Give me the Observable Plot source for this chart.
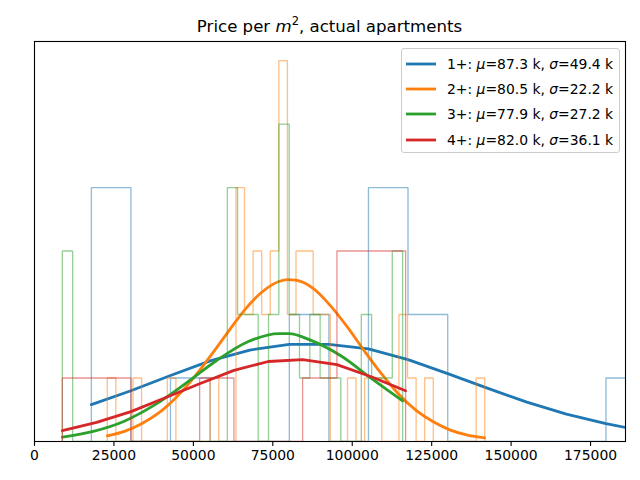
<!DOCTYPE html>
<html>
<head>
<meta charset="utf-8">
<script src="https://cdn.jsdelivr.net/npm/d3@7"></script>
<script src="https://cdn.jsdelivr.net/npm/@observablehq/plot@0.6"></script>
<style>
  html, body { margin: 0; padding: 0; background: #fff; }
  #wrap { position: relative; width: 640px; height: 480px; font-family: "DejaVu Sans", sans-serif; color: #000; }
  #title { position: absolute; left: 34px; width: 591px; top: 17px; text-align: center; font-size: 16.6px; line-height: 20px; white-space: nowrap; }
  #title sup { font-size: 11.5px; vertical-align: 0; position: relative; top: -7px; }
  #legend { position: absolute; left: 401px; top: 48px; width: 219px; height: 105px; border: 1px solid #cccccc; border-radius: 3px; background: rgba(255,255,255,0.8); box-sizing: border-box; }
  .row { position: absolute; left: 0; height: 20px; line-height: 20px; font-size: 13.9px; white-space: nowrap; }
  .row svg { position: absolute; left: 3px; top: 0; }
  .row span { position: absolute; left: 45px; top: 0; }
  #chart { position: absolute; left: 0; top: 0; }
</style>
</head>
<body>
<div id="wrap">
  <div id="chart"></div>
  <div id="title">Price per <i>m</i><sup>2</sup>, actual apartments</div>
  <div id="legend"></div>
</div>
<script>
// ---- series meta ----
const groups = ["1+", "2+", "3+", "4+"];
const colors = ["#1f77b4", "#ff7f0e", "#2ca02c", "#d62728"];
const muK = ["87.3", "80.5", "77.9", "82.0"];
const sigmaK = ["49.4", "22.2", "27.2", "36.1"];

// ---- x tick labels ----
const xTicks = [0, 25000, 50000, 75000, 100000, 125000, 150000, 175000];
const xDomain = [0, 186000];

// ---- histogram bin edges and counts ----
const edges1 = [17900, 30350, 42800, 55250, 67750, 80200, 92650, 105100, 117550, 130050, 142500, 154950, 167400, 179850, 192350];
const counts1 = [4, 0, 1, 0, 0, 2, 0, 4, 2, 0, 0, 0, 0, 1];

const edges2 = [22900, 25600, 28300, 31000, 33700, 36400, 39100, 41800, 44500, 47200, 49900, 52600, 55300, 58000, 60700, 63400, 66100, 68800, 71500, 74200, 76900, 79600, 82300, 85000, 87700, 90400, 93100, 95800, 98500, 101200, 103900, 106600, 109300, 112000, 114700, 117400, 120100, 122800, 125500, 128200, 130900, 133600, 136300, 139000, 141700];
const counts2 = [1, 0, 0, 1, 0, 0, 0, 1, 0, 0, 0, 0, 1, 0, 0, 4, 2, 3, 2, 3, 6, 2, 3, 3, 2, 2, 0, 0, 1, 0, 1, 1, 0, 0, 2, 1, 0, 1, 0, 0, 0, 0, 0, 1];

const edges3 = [8760, 12000, 15250, 18500, 21750, 25000, 28250, 31500, 34700, 37950, 41200, 44450, 47700, 50950, 54200, 57450, 60700, 63900, 67150, 70400, 73650, 76900, 80150, 83400, 86650, 89900, 93150, 96400, 99600, 102850, 106100, 109350, 112600, 115850];
const counts3 = [3, 0, 0, 0, 0, 0, 0, 0, 0, 0, 0, 0, 0, 0, 0, 0, 4, 2, 2, 0, 2, 5, 2, 1, 2, 1, 1, 0, 0, 2, 1, 1, 3];

const edges4 = [8760, 19560, 30360, 41160, 51970, 62770, 73570, 84380, 95180, 105980, 116790];
const counts4 = [1, 1, 0, 0, 1, 0, 0, 1, 3, 3];

// ---- fitted curves (in count units) ----
const curveX1 = edges1;
const curveY1 = [0.58, 0.80, 1.04, 1.27, 1.44, 1.53, 1.53, 1.46, 1.29, 1.07, 0.84, 0.62, 0.43, 0.28, 0.16];

const curveX2 = [22900, 28300, 33700, 39100, 44500, 49900, 55300, 60700, 66100, 71500, 76900, 79600, 82300, 87700, 93100, 98500, 103900, 109300, 114700, 120100, 125500, 130900, 136300, 141700];
const curveY2 = [0.09, 0.16, 0.28, 0.45, 0.69, 0.99, 1.34, 1.71, 2.07, 2.35, 2.52, 2.55, 2.54, 2.41, 2.14, 1.80, 1.42, 1.06, 0.74, 0.49, 0.31, 0.18, 0.10, 0.057];

const curveX3 = [8760, 18500, 28250, 37950, 47700, 57450, 67150, 76900, 80150, 86650, 96400, 106100, 115850];
const curveY3 = [0.07, 0.16, 0.32, 0.58, 0.92, 1.28, 1.57, 1.70, 1.70, 1.60, 1.35, 0.99, 0.64];

const curveX4 = edges4;
const curveY4 = [0.17, 0.30, 0.47, 0.69, 0.91, 1.12, 1.26, 1.29, 1.21, 1.02, 0.80];

// ---- build tables ----
function stepTable(edges, counts) {
  const pts = [{x: edges[0], y: 0}];
  counts.forEach((c, i) => pts.push({x: edges[i], y: c}));
  pts.push({x: edges[edges.length - 1], y: counts[counts.length - 1]});
  pts.push({x: edges[edges.length - 1], y: 0});
  return pts;
}
function curveTable(xs, ys) { return xs.map((x, i) => ({x, y: ys[i]})); }

const hists = [stepTable(edges1, counts1), stepTable(edges2, counts2), stepTable(edges3, counts3), stepTable(edges4, counts4)];
const curves = [curveTable(curveX1, curveY1), curveTable(curveX2, curveY2), curveTable(curveX3, curveY3), curveTable(curveX4, curveY4)];
const curveKinds = ["linear", "monotone-x", "monotone-x", "linear"];

const marks = [];
for (let g = 0; g < 4; g++) {
  marks.push(Plot.line(hists[g], {x: "x", y: "y", curve: "step-after", stroke: colors[g], strokeOpacity: 0.5, strokeWidth: 1.3, strokeLinejoin: "miter", clip: true}));
  marks.push(Plot.line(curves[g], {x: "x", y: "y", curve: curveKinds[g], stroke: colors[g], strokeWidth: 2.8, clip: true}));
}
marks.push(Plot.axisX({ticks: xTicks, tickSize: 4.9, tickPadding: 4, tickFormat: d => String(d), fontSize: 13.9, stroke: "black", strokeWidth: 1.1, label: null}));
marks.push(Plot.frame({stroke: "black", strokeWidth: 1.1}));

const chart = Plot.plot({
  width: 640,
  height: 480,
  marginLeft: 34,
  marginRight: 15,
  marginTop: 41,
  marginBottom: 39,
  x: {domain: xDomain, label: null},
  y: {domain: [0, 6.3], axis: null, label: null},
  style: {fontFamily: "DejaVu Sans", fontSize: "13.9px", background: "white", color: "black", overflow: "visible"},
  marks
});
document.getElementById("chart").appendChild(chart);

// ---- legend ----
const legend = document.getElementById("legend");
const rowCenters = [14.8, 40.1, 65.4, 90.7];
groups.forEach((g, i) => {
  const row = document.createElement("div");
  row.className = "row";
  row.style.top = (rowCenters[i] - 10) + "px";
  row.style.width = "217px";
  row.innerHTML = `<svg width="34" height="20"><line x1="1" x2="31" y1="10" y2="10" stroke="${colors[i]}" stroke-width="2.8"/></svg>` +
    `<span>${g}: <i>μ</i>=${muK[i]} k, <i>σ</i>=${sigmaK[i]} k</span>`;
  legend.appendChild(row);
});
</script>
</body>
</html>
